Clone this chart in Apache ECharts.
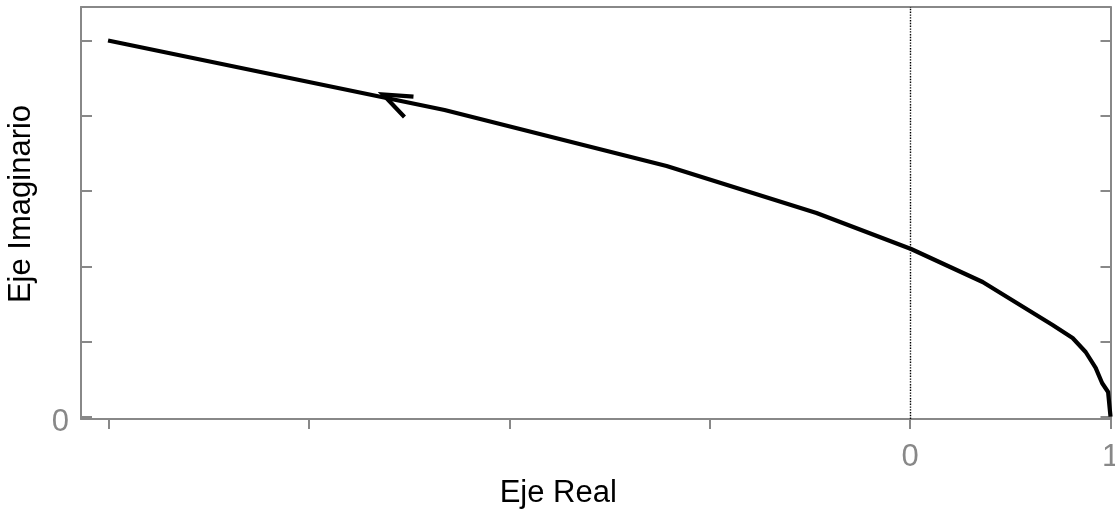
<!DOCTYPE html>
<html>
<head>
<meta charset="utf-8">
<script src="https://cdn.jsdelivr.net/npm/echarts@6/dist/echarts.min.js"></script>
<style>
html,body{margin:0;padding:0;background:#fff;}
#chart{width:1115px;height:511px;}
</style>
</head>
<body>
<div id="chart"></div>
<script>
// Nyquist curve (real, imaginary), starting at (1, 0)
var curveReal = [1.0, 0.988, 0.958, 0.926, 0.876, 0.811, 0.711, 0.362, 0.005, -0.467, -1.215, -2.323, -4.002];
var curveImag = [0.0, 0.328, 0.448, 0.648, 0.860, 1.046, 1.219, 1.791, 2.230, 2.709, 3.334, 4.079, 5.003];
// arrow head (arm end, tip, arm end)
var arrowReal = [-2.478, -2.630, -2.523];
var arrowImag = [4.255, 4.285, 3.985];
// ticks and labels
var xTicks = [-4, -3, -2, -1, 0, 1];
var xLabels = [0, 1];
var yTicks = [0, 1, 2, 3, 4, 5];
var yLabels = [0];
var xRange = [-4.137, 1.0];
var yRange = [-0.031, 5.448];

function zip(a, b) { return a.map(function (v, i) { return [v, b[i]]; }); }

var axisGray = '#888888';
var font = 'Liberation Sans, Arial, sans-serif';

var chart = echarts.init(document.getElementById('chart'), null, {renderer: 'canvas'});
chart.setOption({
  animation: false,
  backgroundColor: '#ffffff',
  grid: {left: 81, right: 4.5, top: 7, bottom: 92, containLabel: false, outerBoundsMode: 'none'},
  xAxis: [{
    type: 'value', min: xRange[0], max: xRange[1], position: 'bottom',
    axisLine: {show: true, onZero: false, lineStyle: {color: axisGray, width: 2}},
    axisTick: {show: true, inside: false, length: 10, customValues: xTicks, lineStyle: {color: axisGray, width: 2}},
    axisLabel: {show: true, customValues: xLabels, margin: 23, color: axisGray, fontSize: 31, fontFamily: font,
      hideOverlap: false,
      formatter: function (v) { return String(Math.round(v)); }},
    splitLine: {show: false},
    name: 'Eje Real', nameLocation: 'middle', nameGap: 57,
    nameTextStyle: {color: '#000', fontSize: 31, fontFamily: font, padding: [0, 75, 0, 0]}
  }, {
    type: 'value', min: xRange[0], max: xRange[1], position: 'top',
    axisLine: {show: true, onZero: false, lineStyle: {color: axisGray, width: 2}},
    axisTick: {show: false}, axisLabel: {show: false}, splitLine: {show: false}
  }],
  yAxis: [{
    type: 'value', min: yRange[0], max: yRange[1], position: 'left',
    axisLine: {show: true, onZero: false, lineStyle: {color: axisGray, width: 2}},
    axisTick: {show: true, inside: true, length: 11, customValues: yTicks, lineStyle: {color: axisGray, width: 2}},
    axisLabel: {show: true, customValues: yLabels, margin: 12, color: axisGray, fontSize: 31, fontFamily: font,
      verticalAlign: 'top', lineHeight: 12,
      formatter: function (v) { return String(Math.round(v)); }},
    splitLine: {show: false},
    name: 'Eje Imaginario', nameLocation: 'middle', nameGap: 44, nameRotate: 90,
    nameTextStyle: {color: '#000', fontSize: 31, fontFamily: font, padding: [0, 0, 0, 18]}
  }, {
    type: 'value', min: yRange[0], max: yRange[1], position: 'right',
    axisLine: {show: true, onZero: false, lineStyle: {color: axisGray, width: 2}},
    axisTick: {show: true, inside: true, length: 10, customValues: yTicks, lineStyle: {color: axisGray, width: 2}},
    axisLabel: {show: false}, splitLine: {show: false}
  }],
  series: [{
    type: 'line', xAxisIndex: 0, yAxisIndex: 0,
    data: zip(curveReal, curveImag),
    symbol: 'none', smooth: false, clip: false,
    lineStyle: {color: '#000', width: 4.2, join: 'round'},
    markLine: {
      silent: true, symbol: ['none', 'none'],
      label: {show: false},
      lineStyle: {color: '#000', width: 1.4, type: 'dotted'},
      data: [{xAxis: 0}]
    }
  }, {
    type: 'line', xAxisIndex: 0, yAxisIndex: 0,
    data: zip(arrowReal, arrowImag),
    symbol: 'none', smooth: false,
    lineStyle: {color: '#000', width: 4.2, join: 'miter'}
  }]
});
</script>
</body>
</html>
